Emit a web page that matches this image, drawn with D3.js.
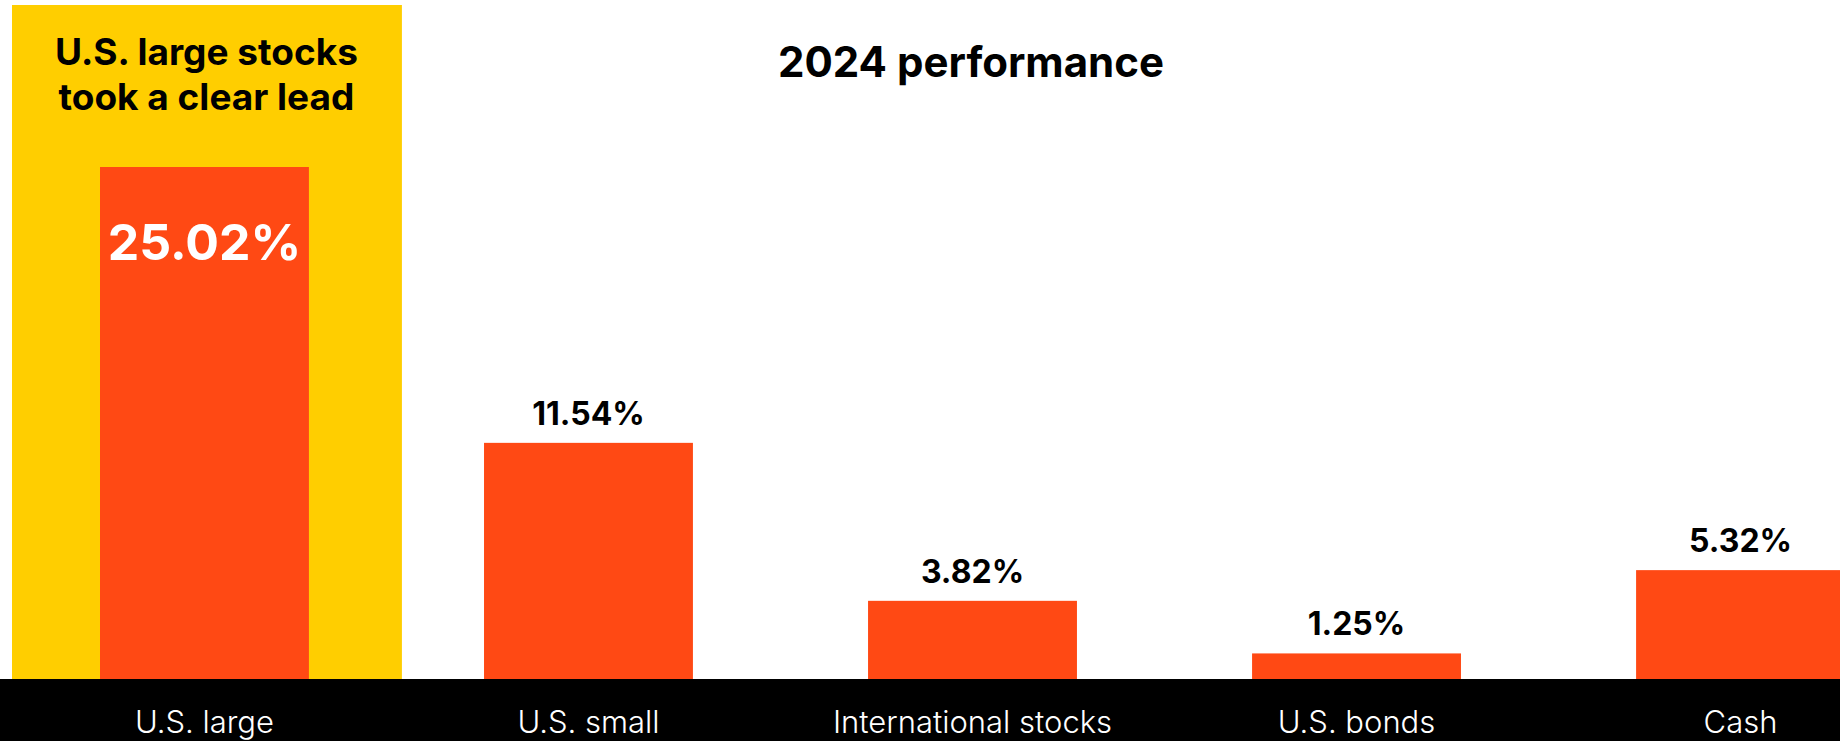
<!DOCTYPE html>
<html>
<head>
<meta charset="utf-8">
<script src="https://cdn.jsdelivr.net/npm/d3@7"></script>
<style>
  html, body { margin: 0; padding: 0; background: #fff; }
  svg { display: block; font-family: Inter, "Noto Sans", sans-serif; }
</style>
</head>
<body>
<div id="chart"></div>
<script>
// data
var categories = ["U.S. large", "U.S. small", "International stocks", "U.S. bonds", "Cash"];
var returns = [25.02, 11.54, 3.82, 1.25, 5.32];
var valueLabels = ["25.02%", "11.54%", "3.82%", "1.25%", "5.32%"];
var highlightLines = ["U.S. large stocks", "took a clear lead"];
var title = "2024 performance";

var width = 1840, height = 741;
var baseY = 679;

var data = categories.map(function(c, i) {
  return {cat: c, value: returns[i], label: valueLabels[i]};
});

var svg = d3.select("#chart")
  .append("svg")
    .attr("width", width)
    .attr("height", height);

// x: bands, 384px step, the last bar runs off the right edge
var x = d3.scaleBand()
    .domain(categories)
    .range([100, 1845])
    .paddingInner(0.456)
    .paddingOuter(0);

var y = d3.scaleLinear()
    .domain([0, 25.02])
    .range([baseY, 167]);

// yellow highlight panel behind the first bar
svg.append("rect")
    .attr("x", x(categories[0]) - 88)
    .attr("y", 5)
    .attr("width", x.bandwidth() + 181)
    .attr("height", baseY - 5)
    .style("fill", "#ffce00");

svg.selectAll(".hl")
  .data(highlightLines)
  .enter()
  .append("text")
    .attr("class", "hl")
    .attr("x", x(categories[0]) + x.bandwidth() / 2 + 2)
    .attr("y", function(d, i) { return 65 + i * 45; })
    .attr("text-anchor", "middle")
    .style("font-size", "37px")
    .style("font-weight", 700)
    .style("fill", "#000")
    .text(function(d) { return d; });

// title
svg.append("text")
    .attr("x", 971)
    .attr("y", 77)
    .attr("text-anchor", "middle")
    .style("font-size", "42px")
    .style("font-weight", 700)
    .style("fill", "#000")
    .text(title);

// bars
svg.selectAll(".bar")
  .data(data)
  .enter()
  .append("rect")
    .attr("class", "bar")
    .attr("x", function(d) { return x(d.cat); })
    .attr("y", function(d) { return y(d.value); })
    .attr("width", x.bandwidth())
    .attr("height", function(d) { return baseY - y(d.value); })
    .style("fill", "#ff4914");

// value labels: first one sits inside the bar in white
svg.selectAll(".val")
  .data(data)
  .enter()
  .append("text")
    .attr("class", "val")
    .attr("x", function(d) { return x(d.cat) + x.bandwidth() / 2; })
    .attr("y", function(d, i) { return i === 0 ? y(d.value) + 93 : y(d.value) - 18; })
    .attr("text-anchor", "middle")
    .style("font-size", function(d, i) { return i === 0 ? "50px" : "32px"; })
    .style("font-weight", 700)
    .style("fill", function(d, i) { return i === 0 ? "#fff" : "#000"; })
    .text(function(d) { return d.label; });

// black axis band
svg.append("rect")
    .attr("x", 0)
    .attr("y", baseY)
    .attr("width", width)
    .attr("height", height - baseY)
    .style("fill", "#000");

var axis = svg.append("g")
    .attr("transform", "translate(0," + baseY + ")")
    .call(d3.axisBottom(x).tickSize(0).tickPadding(0));

axis.select(".domain").remove();
axis.selectAll(".tick text")
    .attr("y", 54)
    .attr("dy", 0)
    .style("font-family", "Inter, 'Noto Sans', sans-serif")
    .style("font-size", "31px")
    .style("font-weight", 300)
    .style("fill", "#fff");
</script>
</body>
</html>
